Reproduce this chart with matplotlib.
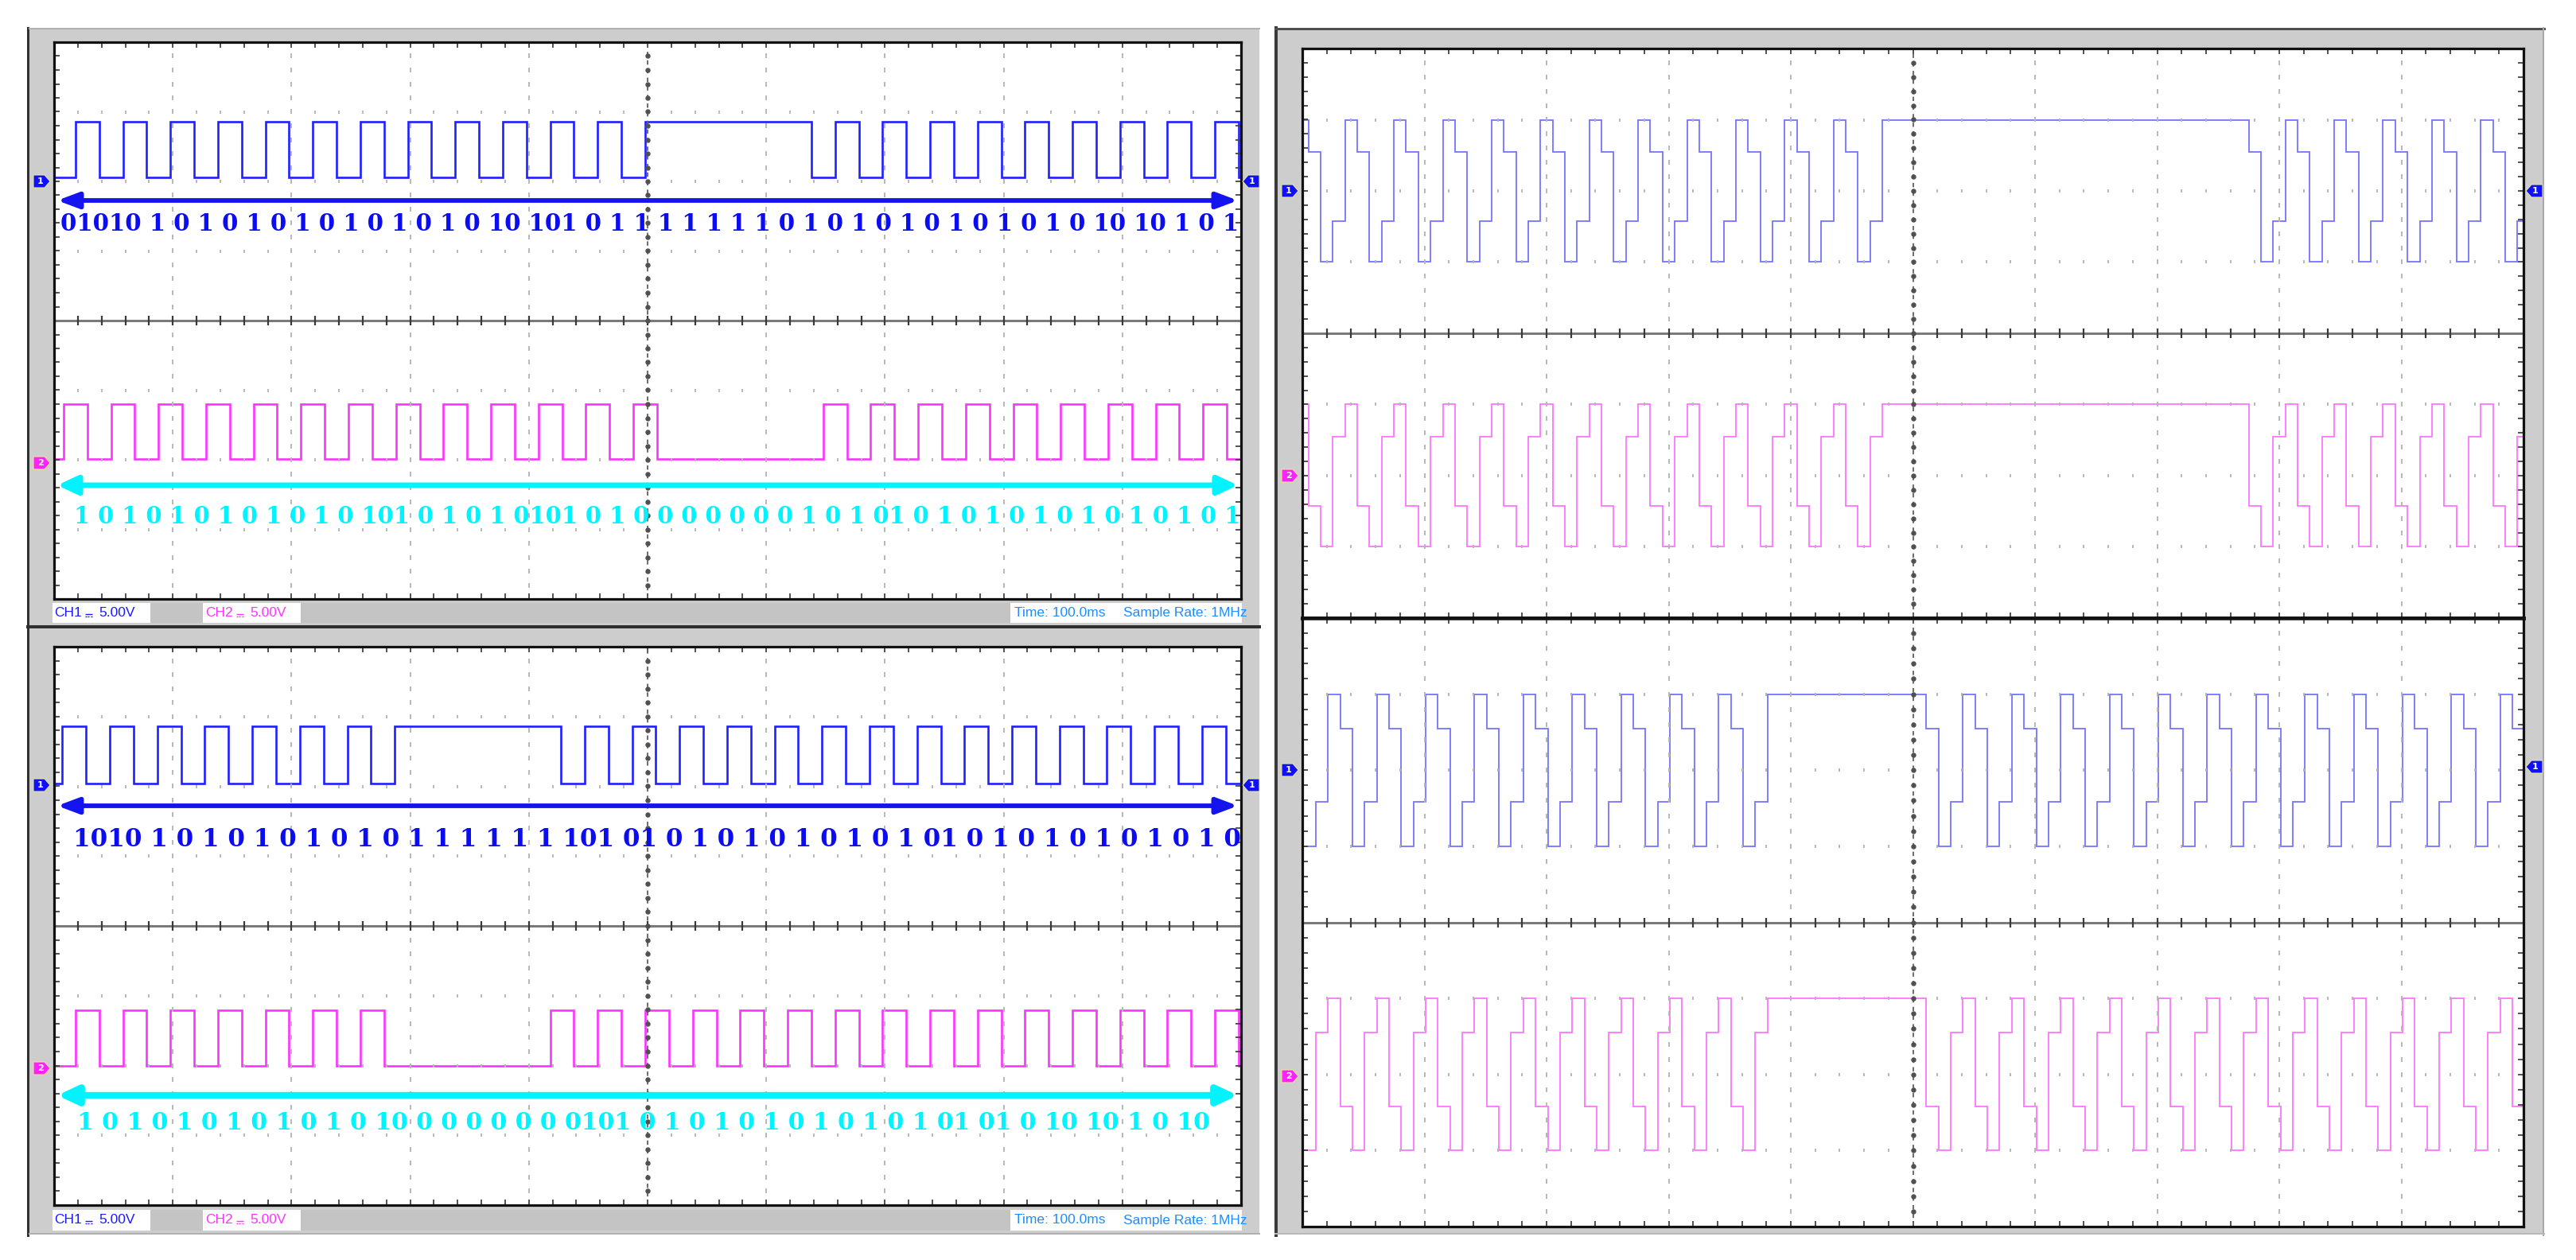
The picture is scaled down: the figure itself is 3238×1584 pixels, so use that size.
import numpy as np
import matplotlib
matplotlib.use("Agg")
import matplotlib.pyplot as plt
from matplotlib.patches import Rectangle, Polygon, FancyArrowPatch

# ------------------------------------------------------------------ data
# Left captures: one logic bit per 0.2 division (spaces only group the bits)
TL_CH1_BITS = "0101010101010101010101010 1111111 0101010101010101010"
TL_CH2_BITS = "01010101010101010101010101 0000000 1010101010101010101"
BL_CH1_BITS = "010101010101010 1111111 010101010101010101010101010101"
BL_CH2_BITS = "01010101010101 0000000 101010101010101010101010101010"

# Decoded bit labels written under the traces
TL_CH1_TEXT = "01010 1 0 1 0 1 0 1 0 1 0 1 0 1 0 10 101 0 1 1 1 1 1 1 1 0 1 0 1 0 1 0 1 0 1 0 1 0 10 10 1 0 1"
TL_CH2_TEXT = "1 0 1 0 1 0 1 0 1 0 1 0 101 0 1 0 1 0101 0 1 0 0 0 0 0 0 0 1 0 1 01 0 1 0 1 0 1 0 1 0 1 0 1 0 1"
BL_CH1_TEXT = "1010 1 0 1 0 1 0 1 0 1 0 1 1 1 1 1 1 101 01 0 1 0 1 0 1 0 1 0 1 01 0 1 0 1 0 1 0 1 0 1 0"
BL_CH2_TEXT = "1 0 1 0 1 0 1 0 1 0 1 0 10 0 0 0 0 0 0 0101 0 1 0 1 0 1 0 1 0 1 0 1 01 01 0 10 10 1 0 10"

# Right captures: 4-level symbols, one per 0.1 division
# 0 = low, 1 = mid-low, 2 = mid-high, 3 = high
TR_CH1_CODES = ("3201 3201 3201 3201 3201 3201 3201 3201 3201 3201 3201 3201 "
                "333333333333333333333333333333 "
                "2013 2013 2013 2013 2013 201")
TR_CH2_CODES = ("3102 3102 3102 3102 3102 3102 3102 3102 3102 3102 3102 3102 "
                "333333333333333333333333333333 "
                "1023 1023 1023 1023 1023 102")
BR_CH1_CODES = ("0132 0132 0132 0132 0132 0132 0132 0132 0132 01 "
                "3333333333333 "
                "2013 2013 2013 2013 2013 2013 2013 2013 2013 2013 2013 2013 2")
BR_CH2_CODES = ("0231 0231 0231 0231 0231 0231 0231 0231 0231 02 "
                "3333333333333 "
                "1023 1023 1023 1023 1023 1023 1023 1023 1023 1023 1023 1023 1")

STATUS_CH1 = "CH1"
STATUS_CH2 = "CH2"
STATUS_VOLTS = "5.00V"
STATUS_TIME = "Time: 100.0ms"
STATUS_RATE = "Sample Rate: 1MHz"

# ------------------------------------------------------------------ figure
W, H = 3238, 1584
fig = plt.figure(figsize=(W / 100, H / 100), dpi=100)
fig.patch.set_facecolor("white")

ax_bg = fig.add_axes([0, 0, 1, 1], zorder=0)
ax_bg.set_xlim(0, W); ax_bg.set_ylim(H, 0); ax_bg.axis("off")
ax_top = fig.add_axes([0, 0, 1, 1], zorder=5)
ax_top.set_xlim(0, W); ax_top.set_ylim(H, 0); ax_top.axis("off")
ax_top.patch.set_alpha(0)

GRAY = "#cdcdcd"
PX = 0.72  # points per pixel

# frames ---------------------------------------------------------------
ax_bg.add_patch(Rectangle((37, 35), 1546, 1517, fc=GRAY, ec="none"))
ax_bg.plot([35, 35], [35, 1553], color="#303030", lw=3 * PX)
ax_bg.plot([37, 1583], [36, 36], color="#b0b0b0", lw=2 * PX)
ax_bg.plot([35, 1583], [788, 788], color="#303030", lw=4 * PX)
ax_bg.plot([37, 1583], [1551, 1551], color="#b0b0b0", lw=2 * PX)

ax_bg.add_patch(Rectangle((1603, 35), 1595, 1517, fc=GRAY, ec="none"))
ax_bg.plot([1604, 1604], [35, 1553], color="#3a3a3a", lw=4 * PX)
ax_bg.plot([1603, 3198], [36, 36], color="#505050", lw=3 * PX)
ax_bg.plot([3197, 3197], [35, 1553], color="#a8a8a8", lw=2 * PX)
ax_bg.plot([1603, 3198], [1551, 1551], color="#b8b8b8", lw=2 * PX)


def dc_symbol(x, yc, color):
    # direct-current sign (solid bar over a dashed bar); no installed font has it
    ax_bg.plot([x, x + 9], [yc + 1, yc + 1], color=color, lw=1.0, solid_capstyle="butt")
    for k in range(3):
        ax_bg.plot([x + 3.3 * k, x + 3.3 * k + 2], [yc + 4, yc + 4], color=color, lw=1.0,
                   solid_capstyle="butt")


def status_bar(y0, y1):
    ax_bg.add_patch(Rectangle((66, y0), 1495, y1 - y0, fc="#c4c4c4", ec="none"))
    for xa, xb in [(66, 189), (255, 378), (1270, 1561)]:
        ax_bg.add_patch(Rectangle((xa, y0), xb - xa, y1 - y0, fc="white", ec="none"))
    yc = (y0 + y1) / 2
    kw = dict(va="center", ha="left", fontsize=12.5, family=["Liberation Sans", "DejaVu Sans"])
    c1, c2, ct = "#1a1aff", "#ff33ff", "#1e8cff"
    ax_bg.text(68, yc, STATUS_CH1, color=c1, **kw)
    dc_symbol(107, yc, c1)
    ax_bg.text(124, yc, STATUS_VOLTS, color=c1, **kw)
    ax_bg.text(258, yc, STATUS_CH2, color=c2, **kw)
    dc_symbol(297, yc, c2)
    ax_bg.text(314, yc, STATUS_VOLTS, color=c2, **kw)
    ax_bg.text(1275, yc, STATUS_TIME, color=ct, **kw)
    ax_bg.text(1412, yc, STATUS_RATE, color=ct, **kw)


status_bar(758, 783)
status_bar(1521, 1547)


# screens --------------------------------------------------------------
def make_screen(x0, y0, x1, y1):
    ax = fig.add_axes([x0 / W, 1 - y1 / H, (x1 - x0) / W, (y1 - y0) / H], zorder=1)
    ax.set_xlim(0, 10); ax.set_ylim(0, 8)
    ax.set_facecolor("white")
    for s in ax.spines.values():
        s.set_linewidth(3.2 * PX); s.set_color("#111111")
    ax.set_xticks(np.arange(0.2, 10, 0.2)); ax.set_yticks(np.arange(0.2, 8, 0.2))
    ax.tick_params(direction="in", length=5, width=1.3, color="#444444",
                   top=True, right=True, labelbottom=False, labelleft=False)
    yy = np.arange(0.2, 8, 0.2)
    xx = np.arange(0.2, 10, 0.2)
    gx, gy = np.meshgrid([1, 2, 3, 4, 6, 7, 8, 9], yy)
    ax.plot(gx.ravel(), gy.ravel(), ls="none", marker="|", ms=5, mew=1.4, color="#b8b8b8")
    hx, hy = np.meshgrid(xx, [1, 2, 3, 5, 6, 7])
    ax.plot(hx.ravel(), hy.ravel(), ls="none", marker="|", ms=3.5, mew=1.4, color="#b8b8b8")
    ax.axhline(4, color="#7a7a7a", lw=3 * PX)
    ax.plot(xx, np.full_like(xx, 4), ls="none", marker="|", ms=9, mew=1.6, color="#3a3a3a")
    ax.axvline(5, color="#606060", lw=1.3, ls=(0, (3, 3)))
    ax.plot(np.full_like(yy, 5), yy, ls="none", marker="o", ms=3.6, color="#505050")
    return ax


ax_tl = make_screen(68, 53, 1560, 753)
ax_bl = make_screen(68, 813, 1560, 1515)
ax_tr = make_screen(1637, 61, 3172, 777)
ax_br = make_screen(1637, 777, 3172, 1542)
ax_tr.spines["bottom"].set_linewidth(4.5 * PX)
ax_br.spines["top"].set_linewidth(4.5 * PX)


def draw_bits(ax, bits, offset, lo, hi, color, lw):
    b = bits.replace(" ", "")
    vals = np.array([hi if c == "1" else lo for c in b])
    edges = offset + 0.2 * np.arange(len(vals) + 1)
    ax.stairs(vals, edges, baseline=None, color=color, lw=lw)


def draw_codes(ax, codes, offset, high, color, lw):
    c = codes.replace(" ", "")
    level = {"3": high, "2": high - 0.45, "1": high - 1.42, "0": high - 2.0}
    vals = np.array([level[k] for k in c])
    edges = offset + 0.1 * np.arange(len(vals) + 1)
    ax.stairs(vals, edges, baseline=None, color=color, lw=lw)


BLUE_L, MAG_L = "#2020ff", "#ff33ff"
BLUE_R, MAG_R = "#7474ff", "#ff74ff"

draw_bits(ax_tl, TL_CH1_BITS, -0.02, 6.06, 6.86, BLUE_L, 1.9)
draw_bits(ax_tl, TL_CH2_BITS, -0.12, 2.01, 2.80, MAG_L, 1.9)
draw_bits(ax_bl, BL_CH1_BITS, -0.13, 6.04, 6.86, BLUE_L, 1.9)
draw_bits(ax_bl, BL_CH2_BITS, -0.02, 2.00, 2.79, MAG_L, 1.9)

draw_codes(ax_tr, TR_CH1_CODES, -0.05, 7.0, BLUE_R, 1.3)
draw_codes(ax_tr, TR_CH2_CODES, -0.05, 3.0, MAG_R, 1.3)
draw_codes(ax_br, BR_CH1_CODES, 0.01, 7.0, BLUE_R, 1.3)
draw_codes(ax_br, BR_CH2_CODES, 0.01, 3.0, MAG_R, 1.3)

# arrows and decoded labels --------------------------------------------
ARROW_BLUE, CYAN, TEXT_BLUE = "#1414f0", "#00f4ff", "#0c0cf0"


def arrow(y, color, lw, hl, hw):
    a = FancyArrowPatch((72, y), (1556, y),
                        arrowstyle=f"<|-|>,head_length={hl},head_width={hw}",
                        mutation_scale=20, lw=lw, color=color, shrinkA=0, shrinkB=0)
    ax_top.add_patch(a)


arrow(252, ARROW_BLUE, 4.2, 0.8, 0.3)
arrow(610, CYAN, 5.0, 0.75, 0.35)
arrow(1013, ARROW_BLUE, 4.2, 0.8, 0.3)
arrow(1377, CYAN, 6.0, 0.75, 0.35)

fits = []
for text, x0, x1, y, col in [(TL_CH1_TEXT, 76, 1553, 281, TEXT_BLUE),
                             (TL_CH2_TEXT, 93, 1553, 649, CYAN),
                             (BL_CH1_TEXT, 92, 1553, 1055, TEXT_BLUE),
                             (BL_CH2_TEXT, 97, 1515, 1412, CYAN)]:
    t = ax_top.text(x0, y, text, color=col, fontsize=22, fontweight="bold",
                    family="DejaVu Serif", ha="left", va="center")
    fits.append((t, x1 - x0))


# channel markers --------------------------------------------------------
def marker(x, y, color, label, right=True):
    s = 1 if right else -1
    pts = [(x - s * 10, y - 8), (x + s * 4, y - 8), (x + s * 11, y), (x + s * 4, y + 8), (x - s * 10, y + 8)]
    ax_top.add_patch(Polygon(pts, closed=True, fc=color, ec="#e8e890", lw=0.8))
    ax_top.text(x - s * 1, y, label, color="white", fontsize=8, fontweight="bold",
                ha="center", va="center")


marker(52, 228, "#1010ff", "1"); marker(52, 582, "#ff22ff", "2")
marker(52, 987, "#1010ff", "1"); marker(52, 1343, "#ff22ff", "2")
marker(1573, 228, "#1010ff", "1", right=False); marker(1573, 987, "#1010ff", "1", right=False)
marker(1621, 240, "#1010ff", "1"); marker(1621, 598, "#ff22ff", "2")
marker(1621, 968, "#1010ff", "1"); marker(1621, 1353, "#ff22ff", "2")
marker(3186, 240, "#1010ff", "1", right=False); marker(3186, 964, "#1010ff", "1", right=False)

# fit the label lines to their measured spans
fig.canvas.draw()
r = fig.canvas.get_renderer()
for t, target in fits:
    w = t.get_window_extent(r).width
    t.set_fontsize(t.get_fontsize() * target / w)

fig.savefig("out.png", dpi=100, facecolor="white")
